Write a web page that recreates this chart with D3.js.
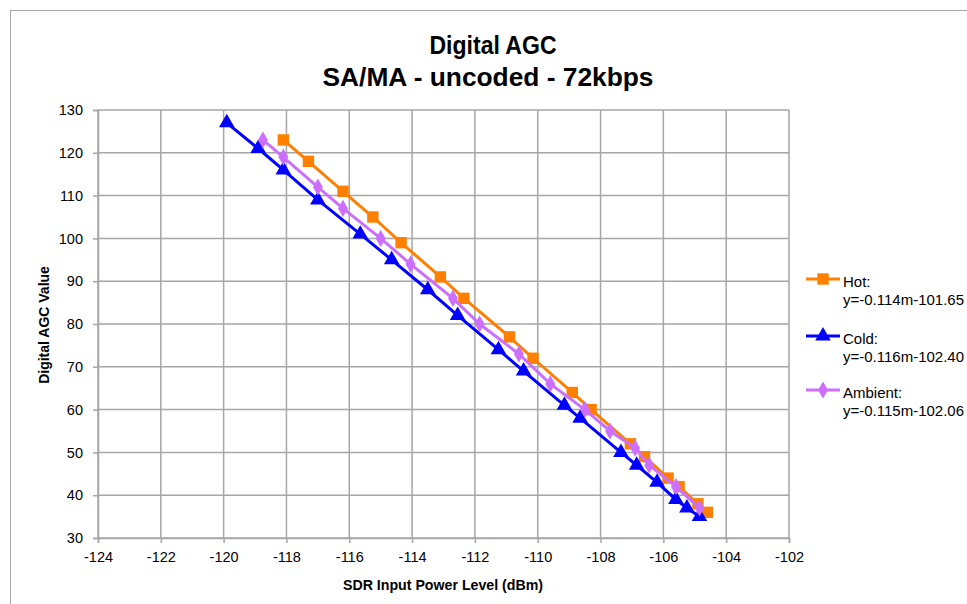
<!DOCTYPE html>
<html>
<head>
<meta charset="utf-8">
<script src="https://cdn.jsdelivr.net/npm/d3@7"></script>
<style>
	body { margin: 0; background: #fff; }
	svg text { font-family: "Liberation Sans", Arial, sans-serif; fill: #000; }
</style>
</head>
<body>
<div id="chart"></div>
<script>
	// Data
	const xTicks = [-124, -122, -120, -118, -116, -114, -112, -110, -108, -106, -104, -102];
	const yTicks = [30, 40, 50, 60, 70, 80, 90, 100, 110, 120, 130];

	const hotX = [-118.1, -117.3, -116.2, -115.25, -114.35, -113.1, -112.35, -110.9, -110.15, -108.9, -108.3, -107.05, -106.6, -105.85, -105.5, -104.9, -104.6];
	const hotY = [123, 118, 111, 105, 99, 91, 86, 77, 72, 64, 60, 52, 49, 44, 42, 38, 36];

	const coldX = [-119.9, -118.9, -118.1, -117.0, -115.65, -114.65, -113.5, -112.55, -111.25, -110.45, -109.15, -108.65, -107.35, -106.85, -106.2, -105.6, -105.25, -104.85];
	const coldY = [127, 121, 116, 109, 101, 95, 88, 82, 74, 69, 61, 58, 50, 47, 43, 39, 37, 35];

	const ambX = [-118.75, -118.1, -117.0, -116.2, -115.0, -114.05, -112.7, -111.85, -110.6, -109.6, -108.5, -107.7, -106.9, -106.45, -105.6, -104.85];
	const ambY = [123, 119, 112, 107, 100, 94, 86, 80, 73, 66, 60, 55, 51, 47, 42, 37];

	const seriesNames = ["Hot:", "Cold:", "Ambient:"];
	const seriesFits = ["y=-0.114m-101.65", "y=-0.116m-102.40", "y=-0.115m-102.06"];

	(function (d3) {
		"use strict";
		const width = 967, height = 604;
		const plot = { left: 98, right: 789, top: 110, bottom: 538 };
		const gridColor = "#a6a6a6";

		const svg = d3.select("#chart").append("svg")
			.attr("width", width)
			.attr("height", height);

		// outer chart border
		svg.append("rect")
			.attr("x", 10.5).attr("y", 10.5)
			.attr("width", 980).attr("height", 620)
			.attr("fill", "none")
			.attr("stroke", gridColor);

		const x = d3.scaleLinear().domain([-124, -102]).range([plot.left, plot.right]);
		const y = d3.scaleLinear().domain([30, 130]).range([plot.bottom, plot.top]);

		// grid
		const grid = svg.append("g").attr("stroke", gridColor).attr("stroke-width", 1.5);
		grid.selectAll(".vx").data(xTicks).enter().append("line")
			.attr("x1", d => x(d)).attr("x2", d => x(d))
			.attr("y1", plot.top).attr("y2", plot.bottom);
		grid.selectAll(".hy").data(yTicks).enter().append("line")
			.attr("x1", plot.left).attr("x2", plot.right)
			.attr("y1", d => y(d)).attr("y2", d => y(d));

		// axes (plain hyphen like the original, not the unicode minus)
		const xAxis = d3.axisBottom(x).tickValues(xTicks).tickSize(5).tickPadding(9)
			.tickFormat(d => String(d));
		const yAxis = d3.axisLeft(y).tickValues(yTicks).tickSize(5).tickPadding(10)
			.tickFormat(d => String(d));
		const gx = svg.append("g").attr("transform", "translate(0," + plot.bottom + ")").call(xAxis);
		const gy = svg.append("g").attr("transform", "translate(" + plot.left + ",0)").call(yAxis);
		[gx, gy].forEach(g => {
			g.select(".domain").attr("stroke", gridColor).attr("stroke-width", 1.5);
			g.selectAll(".tick line").attr("stroke", gridColor).attr("stroke-width", 1.5);
			g.selectAll(".tick text")
				.attr("font-size", 14.5)
				.attr("font-family", "Liberation Sans, Arial, sans-serif")
				.attr("fill", "#000");
		});

		// series
		const series = [
			{ xs: hotX, ys: hotY, color: "#ff8000", symbol: d3.symbolSquare, size: 130 },
			{ xs: coldX, ys: coldY, color: "#0000ff", symbol: d3.symbolTriangle, size: 105 },
			{ xs: ambX, ys: ambY, color: "#cc6fff", symbol: d3.symbolDiamond, size: 85 }
		];
		const line = d3.line().x(d => x(d[0])).y(d => y(d[1]));

		series.forEach(s => {
			const pts = s.xs.map((v, i) => [v, s.ys[i]]);
			svg.append("path")
				.attr("d", line(pts))
				.attr("fill", "none")
				.attr("stroke", s.color)
				.attr("stroke-width", 3);
			svg.append("g").selectAll("path").data(pts).enter().append("path")
				.attr("d", d3.symbol().type(s.symbol).size(s.size))
				.attr("transform", d => "translate(" + x(d[0]) + "," + y(d[1]) + ")")
				.attr("fill", s.color);
		});

		// titles
		svg.append("text")
			.attr("x", 493).attr("y", 54)
			.attr("text-anchor", "middle")
			.attr("font-weight", "bold")
			.attr("font-size", 25)
			.attr("textLength", 127)
			.attr("lengthAdjust", "spacingAndGlyphs")
			.text("Digital AGC");
		svg.append("text")
			.attr("x", 488).attr("y", 86)
			.attr("text-anchor", "middle")
			.attr("font-weight", "bold")
			.attr("font-size", 25)
			.attr("textLength", 331)
			.attr("lengthAdjust", "spacingAndGlyphs")
			.text("SA/MA - uncoded - 72kbps");

		svg.append("text")
			.attr("x", 443).attr("y", 590)
			.attr("text-anchor", "middle")
			.attr("font-weight", "bold")
			.attr("font-size", 14)
			.attr("textLength", 200)
			.attr("lengthAdjust", "spacingAndGlyphs")
			.text("SDR Input Power Level (dBm)");
		svg.append("text")
			.attr("transform", "translate(49,325) rotate(-90)")
			.attr("text-anchor", "middle")
			.attr("font-weight", "bold")
			.attr("font-size", 14)
			.text("Digital AGC Value");

		// legend
		const legendTop = [279, 336, 390];
		const legend = svg.append("g");
		series.forEach((s, i) => {
			const ly = legendTop[i];
			legend.append("line")
				.attr("x1", 806).attr("x2", 840)
				.attr("y1", ly).attr("y2", ly)
				.attr("stroke", s.color).attr("stroke-width", 3);
			legend.append("path")
				.attr("d", d3.symbol().type(s.symbol).size(s.size))
				.attr("transform", "translate(823," + ly + ")")
				.attr("fill", s.color);
			legend.append("text")
				.attr("x", 843).attr("y", ly + 8)
				.attr("font-size", 15)
				.text(seriesNames[i]);
			legend.append("text")
				.attr("x", 843).attr("y", ly + 26)
				.attr("font-size", 15)
				.text(seriesFits[i]);
		});
	})(d3);
</script>
</body>
</html>
